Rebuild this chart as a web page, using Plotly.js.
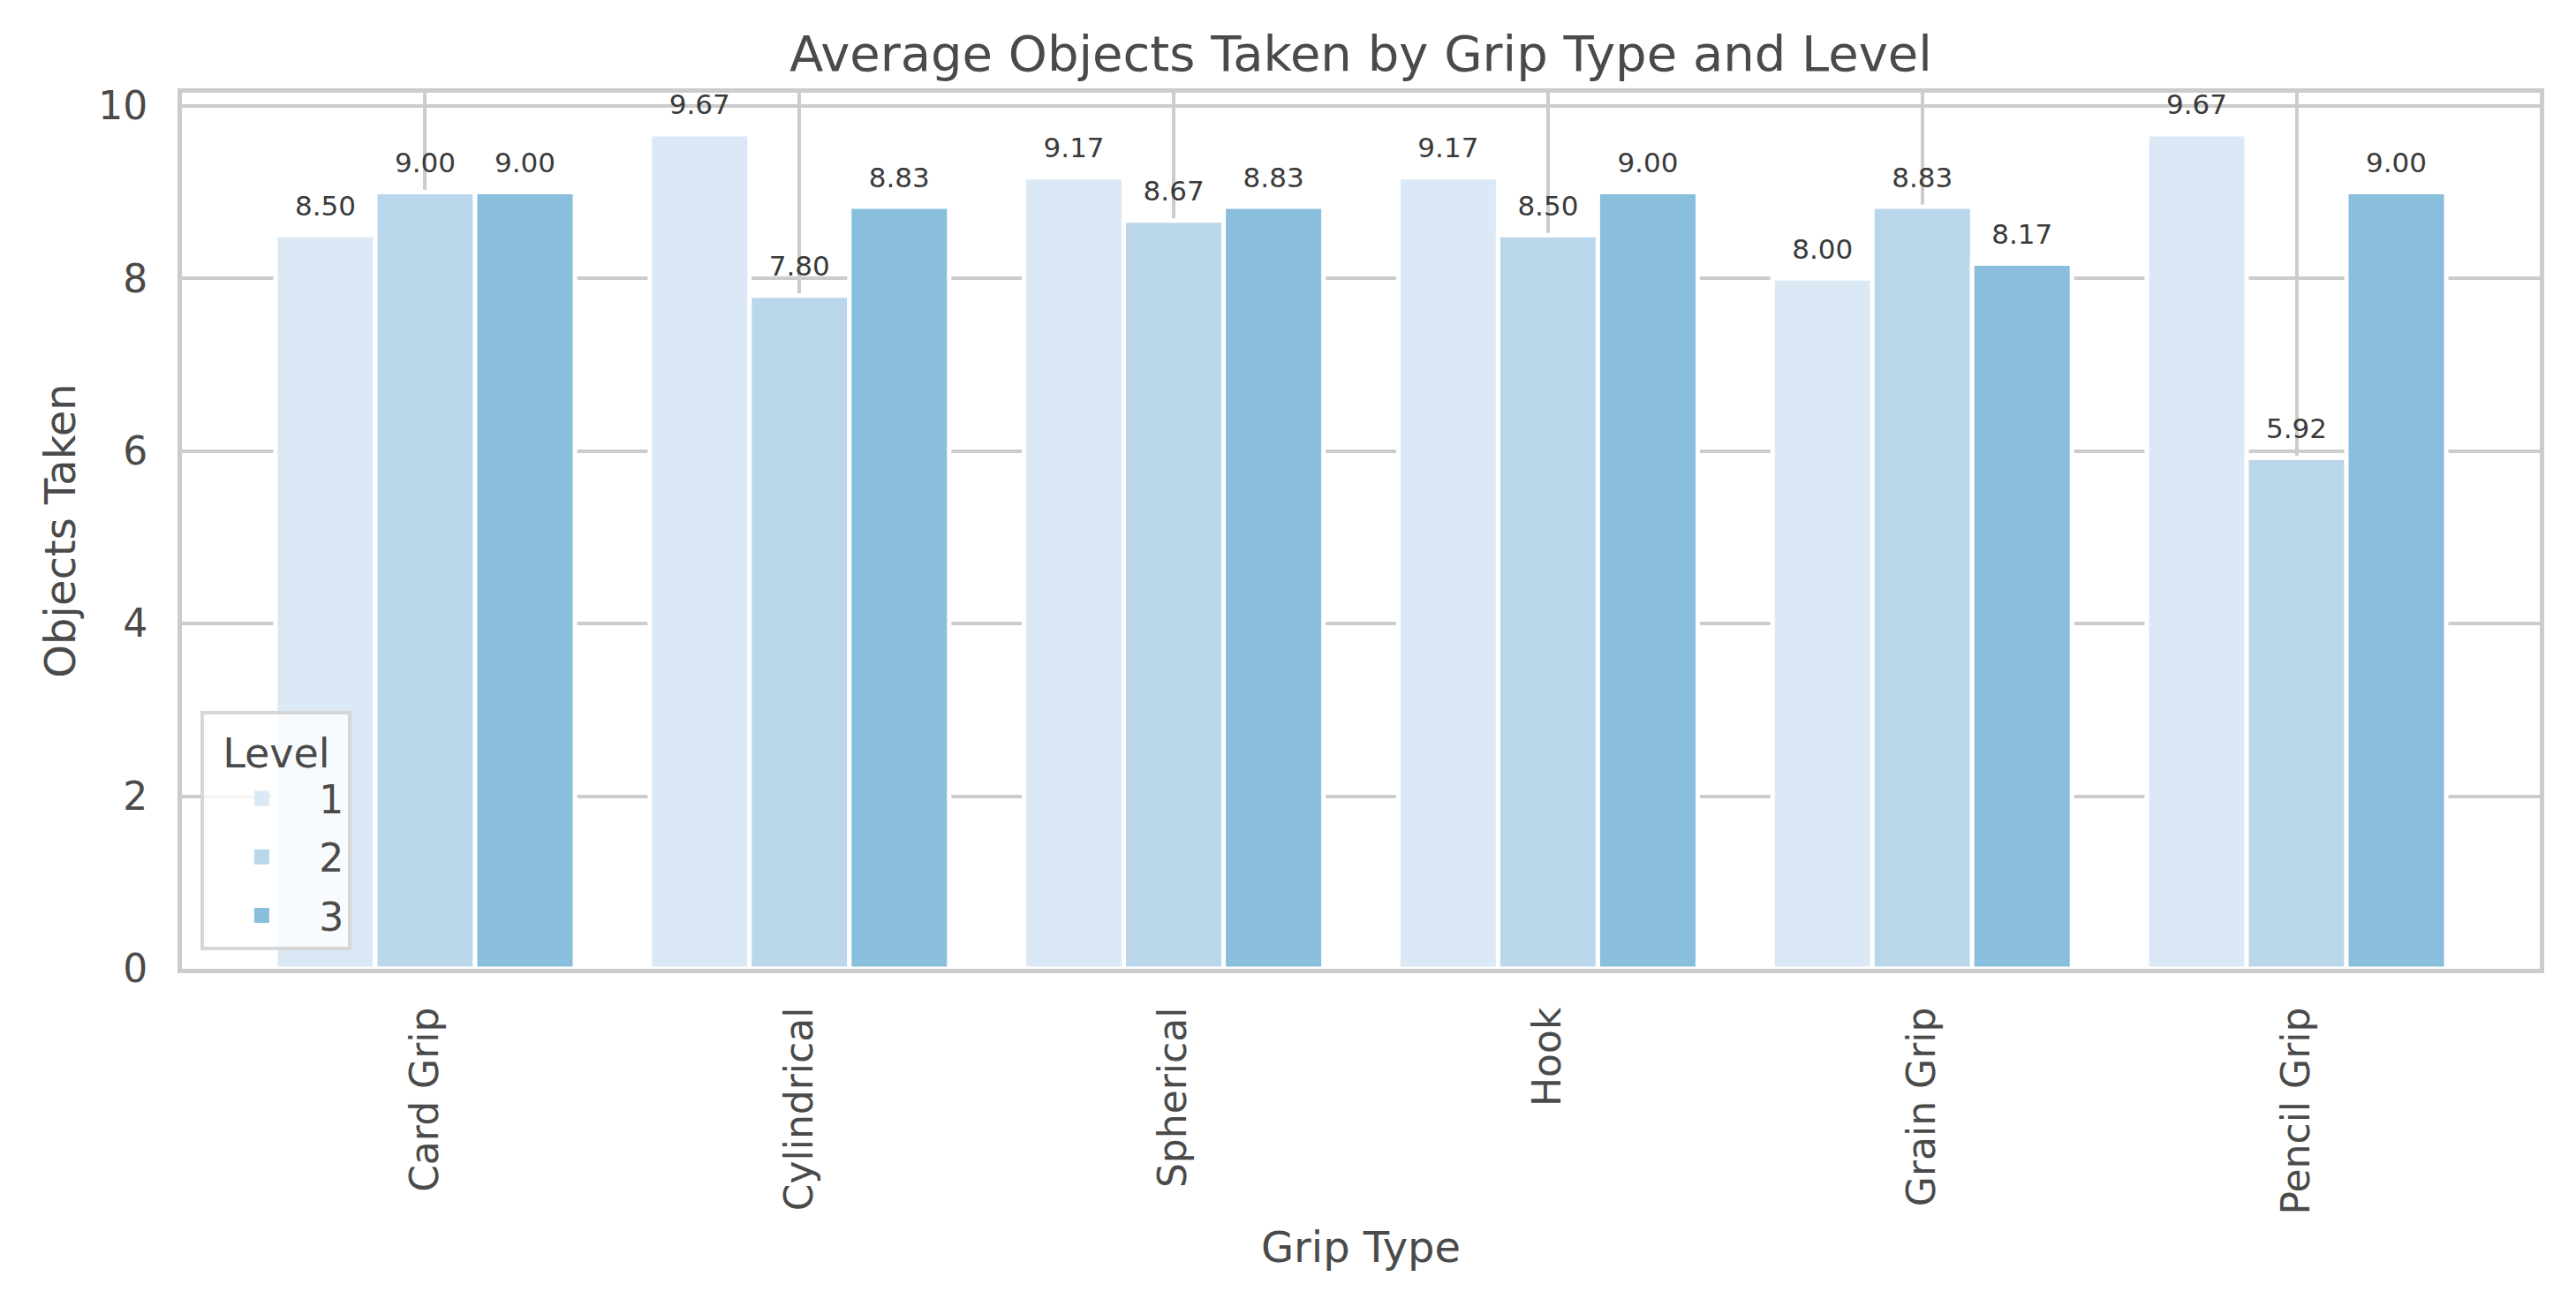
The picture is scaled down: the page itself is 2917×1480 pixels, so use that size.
<!DOCTYPE html>
<html>
<head>
<meta charset="utf-8">
<script src="https://cdn.plot.ly/plotly-3.0.1.min.js"></script>
<style>html,body{margin:0;padding:0;background:#fff;}</style>
</head>
<body>
<div id="chart" style="width:2917px;height:1480px;"></div>
<script>
const gripTypes = ["Card Grip", "Cylindrical", "Spherical", "Hook", "Grain Grip", "Pencil Grip"];
const levelNames = ["1", "2", "3"];
const level1 = [8.50, 9.67, 9.17, 9.17, 8.00, 9.67];
const level2 = [9.00, 7.80, 8.67, 8.50, 8.83, 5.92];
const level3 = [9.00, 8.83, 8.83, 9.00, 8.17, 9.00];
const levelColors = ["#dbe9f6", "#bad6eb", "#89bedc"];

const FONT = "DejaVu Sans, Liberation Sans, sans-serif";
const TXT = "#4a4a4a";
const GRID = "#cccccc";

const series = [level1, level2, level3];
const traces = [];
series.forEach((vals, i) => {
  traces.push({
    type: "bar",
    name: levelNames[i],
    legendgroup: levelNames[i],
    showlegend: false,
    offsetgroup: levelNames[i],
    x: gripTypes,
    y: vals,
    marker: {color: levelColors[i], line: {color: "#ffffff", width: 5}},
    hoverinfo: "x+y+name"
  });
});
series.forEach((vals, i) => {
  traces.push({
    type: "scatter",
    mode: "markers+text",
    name: levelNames[i],
    legendgroup: levelNames[i],
    showlegend: false,
    offsetgroup: levelNames[i],
    x: gripTypes,
    y: vals,
    text: vals.map(v => v.toFixed(2)),
    textposition: "top center",
    cliponaxis: false,
    marker: {size: 22, color: "rgba(0,0,0,0)"},
    textfont: {family: FONT, size: 31, color: "#3a3a3a"},
    hoverinfo: "skip"
  });
});
// legend entries (no data of their own)
series.forEach((vals, i) => {
  traces.push({
    type: "bar",
    name: levelNames[i],
    legendgroup: levelNames[i],
    showlegend: true,
    x: [null],
    y: [null],
    marker: {color: levelColors[i], line: {color: levelColors[i], width: 14}},
    hoverinfo: "skip"
  });
});

const layout = {
  width: 2917,
  height: 1480,
  paper_bgcolor: "#ffffff",
  plot_bgcolor: "#ffffff",
  font: {family: FONT, color: TXT, size: 44},
  margin: {l: 206, r: 41, t: 105, b: 383, pad: 0},
  barmode: "group",
  scattermode: "group",
  bargap: 0.2,
  bargroupgap: 0,
  scattergap: 0.2,
  title: {
    text: "Average Objects Taken by Grip Type and Level",
    font: {family: FONT, size: 56, color: TXT},
    x: 0.5, xref: "paper", xanchor: "center",
    y: 0.9595, yref: "container", yanchor: "middle"
  },
  xaxis: {
    type: "category",
    range: [-0.65, 5.65],
    tickangle: -90,
    tickfont: {family: FONT, size: 44, color: TXT},
    ticks: "",
    ticklabelstandoff: 21,
    showgrid: true, gridcolor: GRID, gridwidth: 4,
    showline: true, linecolor: GRID, linewidth: 5, mirror: true,
    zeroline: false,
    title: {text: "Grip Type", font: {family: FONT, size: 48, color: TXT}, standoff: 22}
  },
  yaxis: {
    range: [0, 10.15],
    dtick: 2,
    tick0: 0,
    tickfont: {family: FONT, size: 44, color: TXT},
    ticks: "",
    ticklabelstandoff: 25,
    showgrid: true, gridcolor: GRID, gridwidth: 4,
    showline: true, linecolor: GRID, linewidth: 5, mirror: true,
    zeroline: false,
    title: {text: "Objects Taken", font: {family: FONT, size: 48, color: TXT}, standoff: 12}
  },
  legend: {
    x: 0.008, y: 0.021, xanchor: "left", yanchor: "bottom",
    bgcolor: "rgba(255,255,255,0.8)",
    bordercolor: "#d6d6d6", borderwidth: 4,
    font: {family: FONT, size: 44, color: TXT},
    title: {text: "Level", side: "top center", font: {family: FONT, size: 46, color: TXT}},
    itemwidth: 120,
    tracegroupgap: 6
  },
  showlegend: true
};

Plotly.newPlot("chart", traces, layout, {displayModeBar: false, staticPlot: true});
</script>
</body>
</html>
